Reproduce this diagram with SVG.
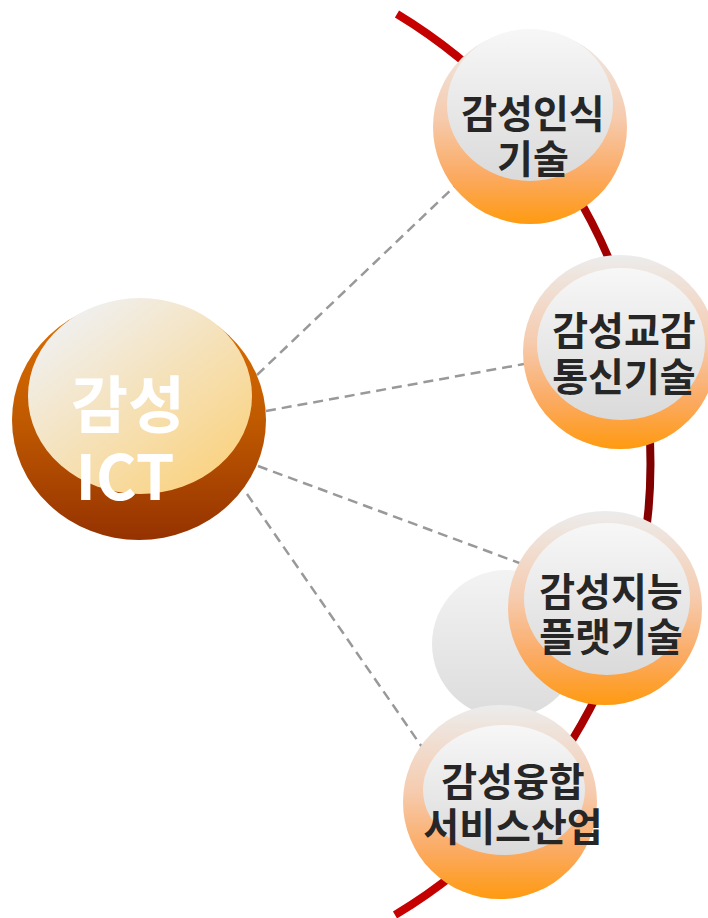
<svg xmlns="http://www.w3.org/2000/svg" width="708" height="918" viewBox="0 0 708 918">
<defs>
<linearGradient id="arcG" gradientUnits="userSpaceOnUse" x1="0" y1="14" x2="0" y2="915">
<stop offset="0" stop-color="#C80000"/>
<stop offset="0.5" stop-color="#7E0000"/>
<stop offset="1" stop-color="#C80000"/>
</linearGradient>
<linearGradient id="outerG" x1="0" y1="0" x2="0" y2="1">
<stop offset="0" stop-color="#ECECEC"/>
<stop offset="0.45" stop-color="#F6CBAE"/>
<stop offset="0.75" stop-color="#FBAA62"/>
<stop offset="1" stop-color="#FF9A10"/>
</linearGradient>
<linearGradient id="innerG" x1="0" y1="0" x2="0" y2="1">
<stop offset="0" stop-color="#F7F7F7"/>
<stop offset="1" stop-color="#DADADA"/>
</linearGradient>
<linearGradient id="ghostG" x1="0" y1="0" x2="0" y2="1">
<stop offset="0" stop-color="#F3F3F3"/>
<stop offset="1" stop-color="#DCDCDC"/>
</linearGradient>
<linearGradient id="hubOuterG" x1="0" y1="0" x2="0" y2="1">
<stop offset="0" stop-color="#E07000"/>
<stop offset="0.5" stop-color="#C05A00"/>
<stop offset="1" stop-color="#953200"/>
</linearGradient>
<linearGradient id="hubInnerG" x1="0.15" y1="0.1" x2="0.85" y2="0.9">
<stop offset="0" stop-color="#F0F0F0"/>
<stop offset="1" stop-color="#FAD383"/>
</linearGradient>
<style>
.conn{fill:none;stroke:#999999;stroke-width:2.5;stroke-dasharray:10 6}
.outer{fill:url(#outerG)}
.inner{fill:url(#innerG)}
.lbl{font-family:"Noto Sans CJK KR","Noto Sans",sans-serif;font-weight:700;font-size:39px;fill:#262626;text-anchor:middle}
.hub{font-family:"Noto Sans CJK KR","Noto Sans",sans-serif;font-weight:700;font-size:62px;fill:#FFFFFF;text-anchor:middle}
</style>
</defs>
<rect x="0" y="0" width="708" height="918" fill="#FFFFFF"/>
<path id="arc" d="M 397 14 A 526 526 0 0 1 395 915" fill="none" stroke="url(#arcG)" stroke-width="8"/>
<g id="connectors">
<line class="conn" x1="257" y1="375" x2="456" y2="185"/>
<line class="conn" x1="266" y1="411" x2="524" y2="364"/>
<line class="conn" x1="258" y1="466" x2="522" y2="564"/>
<line class="conn" x1="247" y1="494" x2="424" y2="750"/>
</g>
<g id="hub">
<ellipse cx="139" cy="420" rx="127" ry="120" fill="url(#hubOuterG)"/>
<ellipse cx="140" cy="396" rx="112" ry="98" fill="url(#hubInnerG)"/>
<text class="hub" x="128" y="428">감성</text>
<text class="hub" x="125" y="500">ICT</text>
</g>
<g id="node1">
<circle class="outer" cx="530" cy="127" r="97"/>
<ellipse class="inner" cx="530" cy="105" rx="83" ry="76"/>
<text class="lbl" x="533" y="128">감성인식</text>
<text class="lbl" x="533" y="173">기술</text>
</g>
<g id="node2">
<circle class="outer" cx="620" cy="352" r="97"/>
<ellipse class="inner" cx="621" cy="344" rx="84" ry="76"/>
<text class="lbl" x="624" y="345">감성교감</text>
<text class="lbl" x="624" y="391">통신기술</text>
</g>
<g id="ghost">
<circle cx="506" cy="644" r="74" fill="url(#ghostG)"/>
</g>
<g id="node3">
<circle class="outer" cx="605" cy="608" r="97"/>
<ellipse class="inner" cx="607" cy="599" rx="83" ry="76"/>
<text class="lbl" x="611" y="606">감성지능</text>
<text class="lbl" x="611" y="651">플랫기술</text>
</g>
<g id="node4">
<circle class="outer" cx="500" cy="802" r="97"/>
<ellipse class="inner" cx="504" cy="790" rx="81" ry="65"/>
<text class="lbl" x="513" y="796">감성융합</text>
<text class="lbl" x="513" y="841">서비스산업</text>
</g>
</svg>
